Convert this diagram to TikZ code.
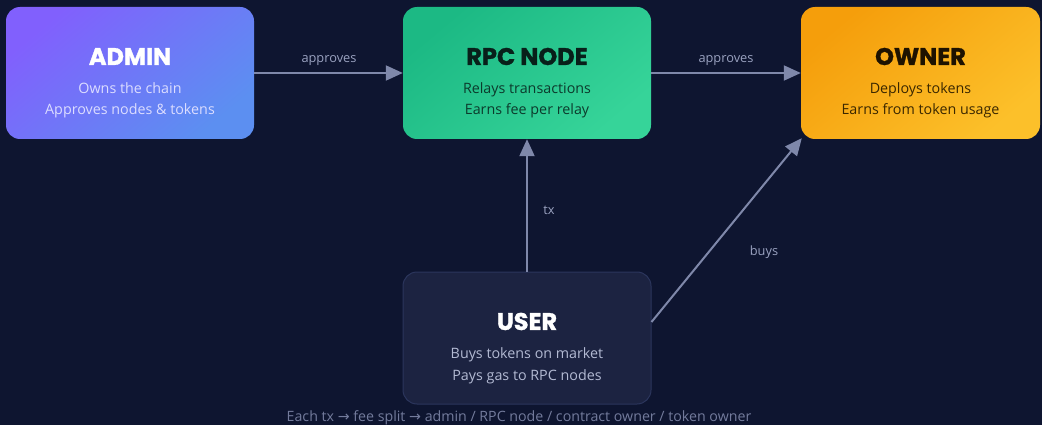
\documentclass[tikz,border=0pt]{standalone}
\usepackage{fontspec}
\setmainfont{Open Sans}
\newfontfamily\titlefont{Poppins}[BoldFeatures={FakeBold=1.3}]
\newfontfamily\symfont{DejaVu Sans}
\usetikzlibrary{arrows.meta,calc}
\definecolor{bg}{HTML}{0E1530}
\definecolor{edgec}{HTML}{7F88AA}
\definecolor{lblc}{HTML}{9AA2C0}
\definecolor{footc}{HTML}{737B9C}
\definecolor{adA}{HTML}{8160FD}
\definecolor{adB}{HTML}{5C8FF1}
\definecolor{rpA}{HTML}{1CB984}
\definecolor{rpB}{HTML}{36D499}
\definecolor{owA}{HTML}{F59E0B}
\definecolor{owB}{HTML}{FCC02A}
\definecolor{usfill}{HTML}{1C2341}
\definecolor{usdraw}{HTML}{2B355C}
\definecolor{adsub}{HTML}{DCDDFF}
\definecolor{rptitle}{HTML}{08201A}
\definecolor{rpsub}{HTML}{0C3A2C}
\definecolor{owtitle}{HTML}{1E1200}
\definecolor{owsub}{HTML}{3A2700}
\definecolor{ussub}{HTML}{B3BAD3}
\tikzset{
  x=1pt,y=1pt,
  card/.style={rounded corners=14pt, minimum height=132pt, inner sep=0pt},
  cardtitle/.style={font=\titlefont\bfseries\fontsize{24}{26}\selectfont, inner sep=0pt},
  cardsub/.style={font=\fontsize{14.3}{21.5}\selectfont, align=center, inner sep=0pt, anchor=base},
  conn/.style={draw=edgec, line width=2pt, -{Triangle[length=17pt,width=15pt]}},
  lbl/.style={font=\fontsize{12.8}{14}\selectfont, text=lblc, inner sep=0pt},
}
\begin{document}
\begin{tikzpicture}
\fill[bg] (0,0) rectangle (1042,-425);
\useasboundingbox (0,0) rectangle (1042,-425);

\node[card, minimum width=248pt, top color=adA, bottom color=adB, shading angle=40] (admin) at (130,-73) {};
\node[card, minimum width=248pt, top color=rpA, bottom color=rpB, shading angle=40] (rpc) at (527,-73) {};
\node[card, minimum width=239pt, top color=owA, bottom color=owB, shading angle=40] (owner) at (920.5,-73) {};
\node[card, minimum width=248pt, fill=usfill, draw=usdraw, line width=1pt] (user) at (527,-338) {};

\node[cardtitle, text=white] (admint) at (130,-56.5) {ADMIN};
\node[cardsub, text=adsub] (admins) at (130,-115) {Owns the chain\\Approves nodes \& tokens};
\node[cardtitle, text=rptitle] (rpct) at (527,-56.5) {RPC NODE};
\node[cardsub, text=rpsub] (rpcs) at (527,-115) {Relays transactions\\Earns fee per relay};
\node[cardtitle, text=owtitle] (ownert) at (920.5,-56.5) {OWNER};
\node[cardsub, text=owsub] (owners) at (920.5,-115) {Deploys tokens\\Earns from token usage};
\node[cardtitle, text=white] (usert) at (527,-321.5) {USER};
\node[cardsub, text=ussub] (users) at (527,-380) {Buys tokens on market\\Pays gas to RPC nodes};

\draw[conn] (admin.east) -- (rpc.west);
\draw[conn] (rpc.east) -- (owner.west);
\draw[conn] (user.north) -- (rpc.south);
\draw[conn] ([yshift=16pt]user.east) -- ([xshift=1pt,yshift=1pt]owner.south west);

\node[lbl] (l1) at (329,-61) {approves};
\node[lbl] (l2) at (726,-61) {approves};
\node[lbl] (l3) at (549,-210) {tx};
\node[lbl] (l4) at (764,-252) {buys};

\node[font=\fontsize{14.2}{16}\selectfont, text=footc, inner sep=0pt] (foot) at (519,-418) {Each tx {\symfont→} fee split {\symfont→} admin / RPC node / contract owner / token owner};
\end{tikzpicture}
\end{document}
